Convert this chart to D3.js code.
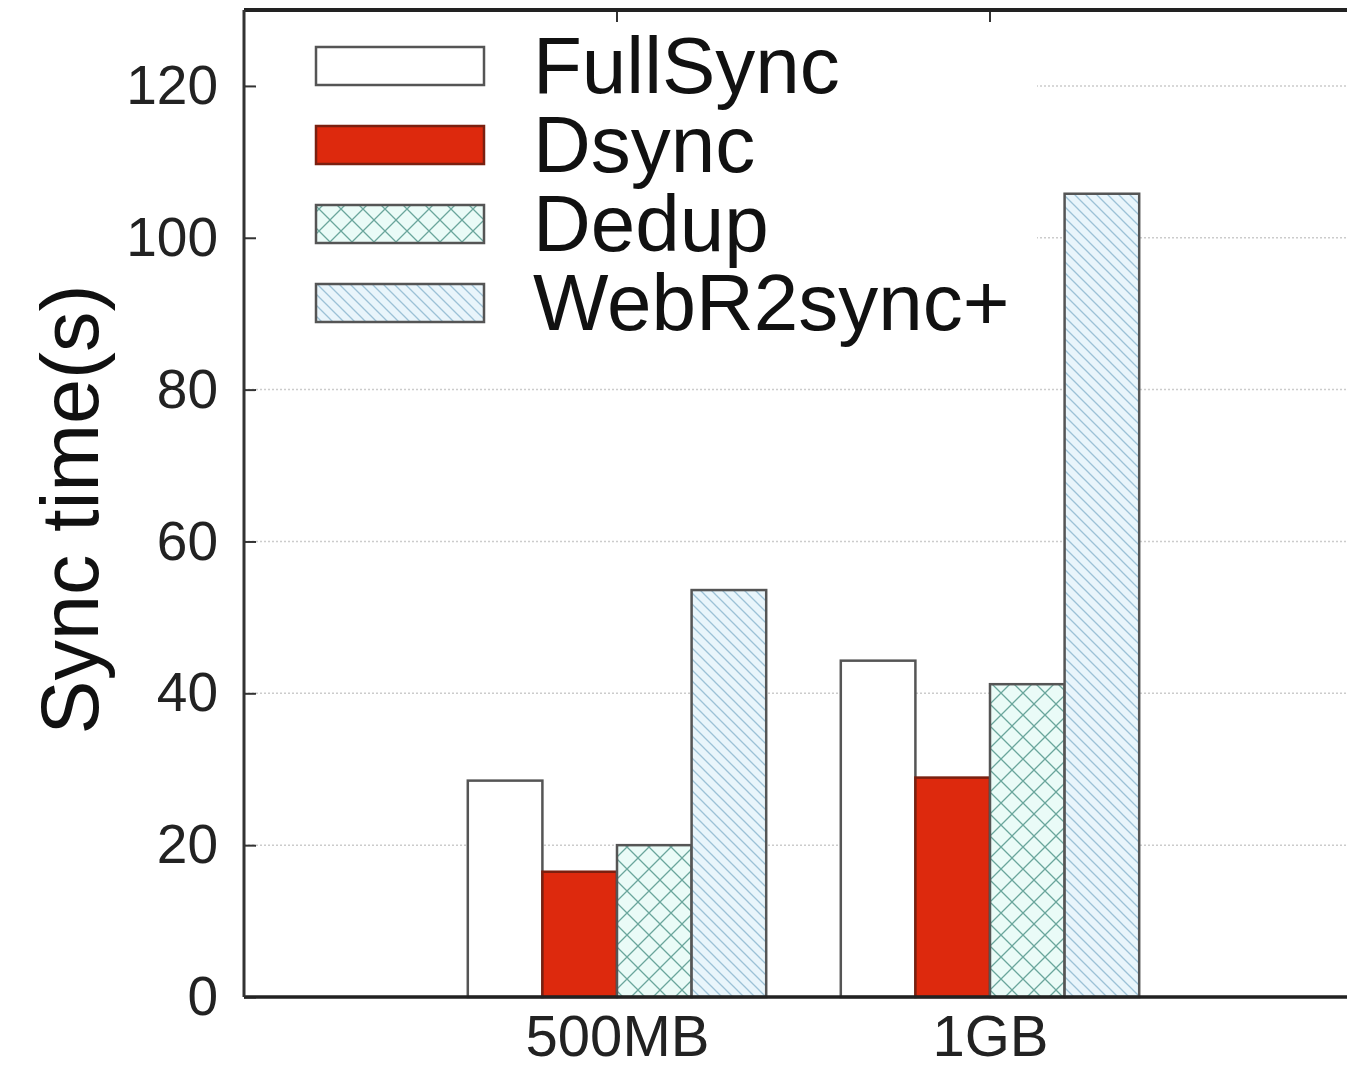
<!DOCTYPE html>
<html>
<head>
<meta charset="utf-8">
<script src="https://cdn.jsdelivr.net/npm/d3@7"></script>
<style>
  body { margin: 0; background: #fff; }
  svg { display: block; font-family: "Liberation Sans", Arial, sans-serif; }
</style>
</head>
<body>
<div id="chart"></div>
<script>
// data
var categories = ['500MB', '1GB'];
var series = ['FullSync', 'Dsync', 'Dedup', 'WebR2sync+'];
var fullSync = [28.5, 44.3];
var dsync = [16.5, 28.9];
var dedup = [20.0, 41.2];
var webR2sync = [53.6, 105.8];
var yTicks = [0, 20, 40, 60, 80, 100, 120];

var values = [fullSync, dsync, dedup, webR2sync];

var W = 1347, H = 1070;
var margin = {left: 244, top: 10, bottom: 73};
var plotBottom = H - margin.bottom;

var svg = d3.select('#chart').append('svg')
    .attr('width', W)
    .attr('height', H);

// patterns for the hatched bars
var defs = svg.append('defs');

var cross = defs.append('pattern')
    .attr('id', 'crossHatch')
    .attr('patternUnits', 'userSpaceOnUse')
    .attr('width', 22).attr('height', 22);
cross.append('rect').attr('width', 22).attr('height', 22).attr('fill', '#eafbf7');
cross.append('path')
    .attr('d', 'M0,0 L22,22 M22,0 L0,22 M-2,20 L2,24 M20,-2 L24,2 M-2,2 L2,-2 M20,24 L24,20')
    .attr('stroke', '#6aa69c').attr('stroke-width', 1.3);

var diag = defs.append('pattern')
    .attr('id', 'diagHatch')
    .attr('patternUnits', 'userSpaceOnUse')
    .attr('width', 11).attr('height', 11);
diag.append('rect').attr('width', 11).attr('height', 11).attr('fill', '#e9f5fb');
diag.append('path')
    .attr('d', 'M0,0 L11,11 M-3,8 L3,14 M8,-3 L14,3')
    .attr('stroke', '#9cc1d6').attr('stroke-width', 1.3);

var fills = ['#ffffff', '#dd290d', 'url(#crossHatch)', 'url(#diagHatch)'];
var strokes = ['#555555', '#7a2010', '#555555', '#555555'];

// scales
var x = d3.scaleLinear().domain([-1, 2]).range([margin.left, 1363]);
var y = d3.scaleLinear().domain([0, 130]).range([plotBottom, margin.top]);
var barW = x(0.2) - x(0);

// grid
svg.append('g')
    .selectAll('line')
    .data(yTicks.slice(1))
    .enter().append('line')
        .attr('x1', x(-1)).attr('x2', x(2))
        .attr('y1', function(d){ return y(d); })
        .attr('y2', function(d){ return y(d); })
        .attr('stroke', '#cccccc')
        .attr('stroke-width', 1.5)
        .attr('stroke-dasharray', '2,2');

// bars
for(var s = 0; s < series.length; s++){
    svg.append('g')
        .selectAll('rect')
        .data(values[s])
        .enter().append('rect')
            .attr('x', function(d, i){ return x(i - 0.4 + s * 0.2); })
            .attr('y', function(d){ return y(d); })
            .attr('width', barW)
            .attr('height', function(d){ return plotBottom - y(d); })
            .attr('fill', fills[s])
            .attr('stroke', strokes[s])
            .attr('stroke-width', 2.5);
}

// legend (opaque box hides grid behind it)
var legend = svg.append('g');
legend.append('rect')
    .attr('x', margin.left + 3).attr('y', margin.top + 3)
    .attr('width', 790).attr('height', 335)
    .attr('fill', '#fff');

var legendRow = d3.scaleLinear().domain([0, 1]).range([66, 145]);
series.forEach(function(name, i){
    legend.append('rect')
        .attr('x', 316).attr('y', legendRow(i) - 19)
        .attr('width', 168).attr('height', 38)
        .attr('fill', fills[i])
        .attr('stroke', strokes[i])
        .attr('stroke-width', 2.5);
    legend.append('text')
        .attr('x', 533).attr('y', legendRow(i) + 27)
        .attr('font-size', 80)
        .attr('fill', '#111')
        .text(name);
});

// axes
var yAxis = d3.axisLeft(y).tickValues(yTicks).tickSize(-12).tickPadding(26);
var gy = svg.append('g')
    .attr('transform', 'translate(' + margin.left + ',0)')
    .call(yAxis);
gy.select('.domain').remove();
gy.selectAll('.tick line').attr('stroke', '#333').attr('stroke-width', 2);
gy.selectAll('.tick text')
    .attr('font-size', 55)
    .attr('fill', '#222')
    .attr('font-family', '"Liberation Sans", Arial, sans-serif');

var xAxis = d3.axisBottom(x).tickValues([0, 1])
    .tickFormat(function(d){ return categories[d]; })
    .tickSize(0).tickPadding(18);
var gx = svg.append('g')
    .attr('transform', 'translate(0,' + plotBottom + ')')
    .call(xAxis);
gx.select('.domain').remove();
gx.selectAll('.tick text')
    .attr('font-size', 58)
    .attr('fill', '#222')
    .attr('font-family', '"Liberation Sans", Arial, sans-serif');

// mirrored ticks at the top
svg.append('g')
    .selectAll('line')
    .data([0, 1])
    .enter().append('line')
        .attr('x1', function(d){ return x(d); })
        .attr('x2', function(d){ return x(d); })
        .attr('y1', margin.top).attr('y2', margin.top + 12)
        .attr('stroke', '#333').attr('stroke-width', 2);

// border
svg.append('line')
    .attr('x1', x(-1)).attr('x2', x(2))
    .attr('y1', margin.top).attr('y2', margin.top)
    .attr('stroke', '#222').attr('stroke-width', 4);
svg.append('line')
    .attr('x1', x(-1)).attr('x2', x(2))
    .attr('y1', plotBottom).attr('y2', plotBottom)
    .attr('stroke', '#222').attr('stroke-width', 3.5);
svg.append('line')
    .attr('x1', x(-1)).attr('x2', x(-1))
    .attr('y1', margin.top).attr('y2', plotBottom)
    .attr('stroke', '#333').attr('stroke-width', 3);

// y label
svg.append('text')
    .attr('transform', 'translate(98,' + ((margin.top + plotBottom) / 2 + 6) + ') rotate(-90)')
    .attr('text-anchor', 'middle')
    .attr('font-size', 81)
    .attr('fill', '#111')
    .text('Sync time(s)');
</script>
</body>
</html>
